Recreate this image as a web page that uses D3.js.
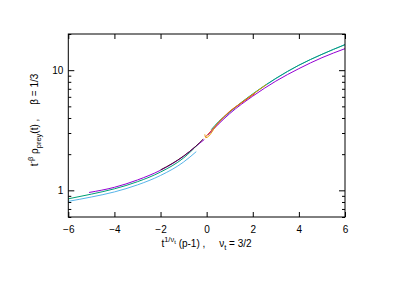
<!DOCTYPE html>
<html><head><meta charset="utf-8">
<script src="https://cdn.jsdelivr.net/npm/d3@7"></script>
<style>body{margin:0;background:#fff}svg{display:block}text{font-family:"Liberation Sans",Arial,sans-serif;font-size:10px;fill:#000;white-space:pre}</style>
</head><body><svg id="c" width="398" height="281"></svg>
<script>
// ---- data ----
const xTicks = [-6, -4, -2, 0, 2, 4, 6];
const yTicks = [1, 10];
const yMinor = [0.6, 0.7, 0.8, 0.9, 2, 3, 4, 5, 6, 7, 8, 9, 20];

const purpleLeftX  = [-5.1, -4, -3, -2, -1.5, -1, -0.5, -0.1];
const purpleLeftY  = [0.96, 1.06, 1.22, 1.47, 1.66, 1.92, 2.3, 2.65];
const purpleRightX = [0.05, 0.5, 1, 2, 3, 4, 5, 6];
const purpleRightY = [2.88, 3.54, 4.35, 6.08, 8.1, 10.3, 12.7, 15.1];

const greenLeftX   = [-6, -5, -4, -3, -2, -1, -0.37];
const greenLeftY   = [0.85, 0.93, 1.03, 1.18, 1.42, 1.86, 2.42];
const greenRightX  = [0.2, 0.5, 1, 2, 3, 4, 5, 6];
const greenRightY  = [3.2, 3.7, 4.5, 6.35, 8.55, 11.0, 13.55, 16.3];

const cyanLeftX    = [-6, -5, -4, -3, -2, -1, -0.45];
const cyanLeftY    = [0.81, 0.88, 0.97, 1.11, 1.33, 1.72, 2.1];
const cyanRightX   = [0.3, 0.5, 1, 2, 3, 4, 5, 6];
const cyanRightY   = [3.25, 3.62, 4.45, 6.3, 8.5, 11.0, 13.55, 16.35];

const darkLeftX    = [-2, -1.5, -1, -0.5, -0.15];
const darkLeftY    = [1.48, 1.67, 1.93, 2.3, 2.67];

const orangeRightX = [-0.08, -0.04, 0.5, 1, 1.5, 2, 2.6];
const orangeRightY = [2.92, 2.74, 3.65, 4.55, 5.35, 6.3, 7.6];

const redRightX    = [-0.05, 0.5, 1, 1.5, 2.1];
const redRightY    = [2.78, 3.62, 4.52, 5.32, 6.4];

const series = [
  {x: cyanLeftX, y: cyanLeftY, c: "#56b4e9"},
  {x: cyanRightX, y: cyanRightY, c: "#56b4e9"},
  {x: greenLeftX, y: greenLeftY, c: "#009e73"},
  {x: greenRightX, y: greenRightY, c: "#009e73"},
  {x: purpleLeftX, y: purpleLeftY, c: "#9400d3"},
  {x: purpleRightX, y: purpleRightY, c: "#9400d3"},
  {x: darkLeftX, y: darkLeftY, c: "#4a1030"},
  {x: orangeRightX, y: orangeRightY, c: "#e69f00"},
  {x: redRightX, y: redRightY, c: "#e5501e"}
];

// ---- layout ----
const L = 68.3, R = 345, T = 34, B = 217;
const svg = d3.select("#c");
const x = d3.scaleLinear().domain([-6, 6]).range([L, R]);
const y = d3.scaleLog().domain([0.6, 20]).range([B, T]);

const line = d3.line().x(d => x(d[0])).y(d => y(d[1])).curve(d3.curveMonotoneX);
const g = svg.append("g");
series.forEach(s => {
  g.append("path").datum(s.x.map((v, i) => [v, s.y[i]]))
    .attr("d", line).attr("fill", "none").attr("stroke", s.c).attr("stroke-width", 1);
});

// axes via d3 axis, ticks inward
const ax = svg.append("g");
function strip(sel){ sel.select(".domain").remove(); sel.selectAll("line").attr("stroke","#000"); sel.attr("font-family", null).attr("font-size", null); }
ax.append("g").attr("transform", `translate(0,${B})`)
  .call(d3.axisBottom(x).tickValues(xTicks).tickSize(-5).tickPadding(9).tickFormat(d3.format("d")))
  .call(strip);
ax.append("g").attr("transform", `translate(0,${T})`)
  .call(d3.axisTop(x).tickValues(xTicks).tickSize(-5).tickFormat(""))
  .call(strip);
ax.append("g").attr("transform", `translate(${L},0)`)
  .call(d3.axisLeft(y).tickValues(yTicks).tickSize(-6).tickPadding(5).tickFormat(d3.format("d")))
  .call(strip);
ax.append("g").attr("transform", `translate(${L},0)`)
  .call(d3.axisLeft(y).tickValues(yMinor).tickSize(-3).tickFormat(""))
  .call(strip);
ax.append("g").attr("transform", `translate(${R},0)`)
  .call(d3.axisRight(y).tickValues(yTicks).tickSize(-6).tickFormat(""))
  .call(strip);
ax.append("g").attr("transform", `translate(${R},0)`)
  .call(d3.axisRight(y).tickValues(yMinor).tickSize(-3).tickFormat(""))
  .call(strip);

svg.append("rect").attr("x", L).attr("y", T).attr("width", R - L).attr("height", B - T)
  .attr("fill", "none").attr("stroke", "#000").attr("stroke-width", 1);

// x label
const xl = svg.append("text").attr("x", 206.5).attr("y", 247).attr("text-anchor", "middle");
xl.append("tspan").text("t");
xl.append("tspan").attr("dy", -5).style("font-size", "7.5px").text("1/ν");
xl.append("tspan").attr("dy", 2).style("font-size", "6px").text("t");
xl.append("tspan").attr("dy", 3).text(" (p-1) ,     ν");
xl.append("tspan").attr("dy", 3).style("font-size", "7.5px").text("t");
xl.append("tspan").attr("dy", -3).text(" = 3/2");

// y label
const yl = svg.append("text").attr("transform", "translate(38,120) rotate(-90)").attr("text-anchor", "middle");
yl.append("tspan").text("t");
yl.append("tspan").attr("dy", -5).style("font-size", "7.5px").text("-β");
yl.append("tspan").attr("dy", 5).text(" ρ");
yl.append("tspan").attr("dy", 3).style("font-size", "7.5px").text("prey");
yl.append("tspan").attr("dy", -3).text("(t) ,     β = 1/3");
</script></body></html>
